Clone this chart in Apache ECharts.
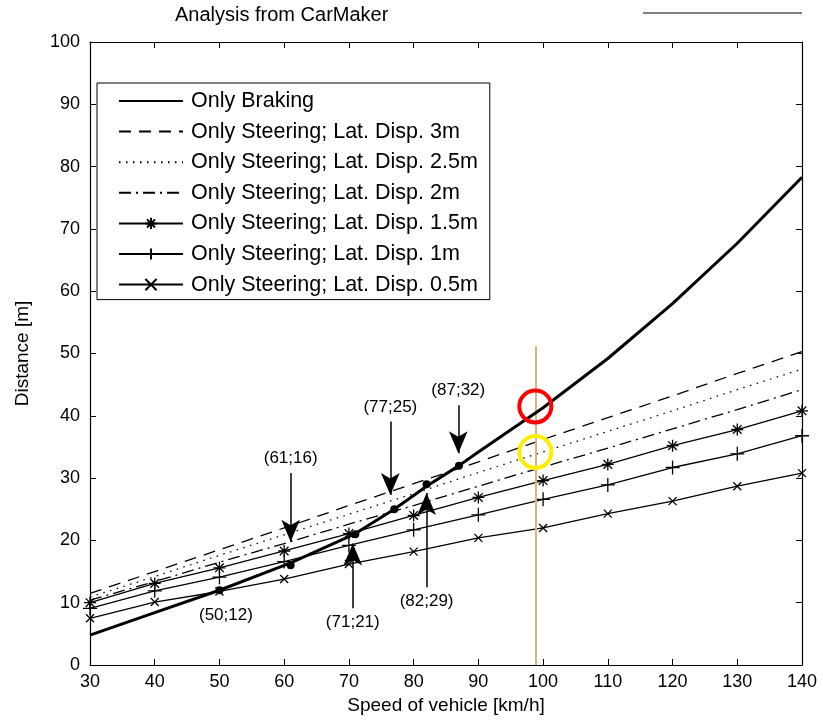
<!DOCTYPE html>
<html>
<head>
<meta charset="utf-8">
<script src="https://cdn.jsdelivr.net/npm/echarts@6/dist/echarts.min.js"></script>
<style>html,body{margin:0;padding:0;background:#fff;}#c{width:823px;height:725px;}</style>
</head>
<body>
<div id="c"></div>
<script>
// ---- data ----
const speeds = [30, 40, 50, 60, 70, 80, 90, 100, 110, 120, 130, 140];
const brakingSpeeds = [30, 40, 50, 60, 61, 70, 71, 77, 80, 82, 87, 90, 100, 110, 120, 130, 140];
const brakingDist = [4.8, 8.4, 12.0, 16.0, 16.4, 20.6, 21.1, 25.0, 27.2, 28.7, 32.0, 34.2, 41.3, 49.2, 58.0, 67.7, 78.3];
const steer3m  = [11.5, 15.0, 18.5, 22.0, 25.6, 29.1, 32.6, 36.2, 39.7, 43.2, 46.8, 50.3];
const steer25m = [10.9, 14.2, 17.6, 20.9, 24.2, 27.5, 30.9, 34.2, 37.5, 40.8, 44.2, 47.5];
const steer2m  = [10.4, 13.4, 16.5, 19.5, 22.6, 25.6, 28.7, 31.8, 34.8, 37.9, 41.0, 44.2];
const steer15m = [10.0, 13.1, 15.6, 18.3, 21.1, 24.0, 26.9, 29.6, 32.2, 35.2, 37.8, 40.8];
const steer1m  = [9.1, 11.9, 14.1, 16.6, 19.2, 21.7, 24.1, 26.6, 28.9, 31.7, 33.9, 36.8];
const steer05m = [7.5, 10.1, 11.8, 13.8, 16.2, 18.2, 20.4, 22.0, 24.3, 26.3, 28.7, 30.8];
const seriesNames = ['Only Braking', 'Only Steering; Lat. Disp. 3m', 'Only Steering; Lat. Disp. 2.5m',
  'Only Steering; Lat. Disp. 2m', 'Only Steering; Lat. Disp. 1.5m', 'Only Steering; Lat. Disp. 1m',
  'Only Steering; Lat. Disp. 0.5m'];
// key points on braking curve
const keyX = [50, 61, 71, 77, 82, 87];
const keyY = [12, 16, 21, 25, 29, 32];
// arrow annotations
const arrowLabels = ['(61;16)', '(77;25)', '(87;32)', '(71;21)', '(82;29)'];
const arrowX = [61, 76.4, 86.9, 70.6, 82.0];
const arrowFrom = [30.8, 39.1, 41.7, 9.1, 12.5];
const arrowTo = [19.8, 27.3, 34.0, 19.5, 27.6];
// text-only annotation
const noteLabel = '(50;12)';
const noteX = 51.0, noteY = 8.0;
// highlight circles and vertical marker
const circleX = [98.8, 98.8];
const circleY = [41.5, 34.2];
const circleColors = ['#ff0000', '#ffee00'];
const markerX = 98.9;
const markerTop = 51.2;
// axis ticks
const xMin = 30, xMax = 140, xStep = 10;
const yMin = 0, yMax = 100, yStep = 10;

// ---- chart ----
const FONT = '"Liberation Sans", Arial, sans-serif';
const pair = (xs, ys) => xs.map((x, i) => [x, ys[i]]);
const STAR = 'path://M0,-1L0,1M-1,0L1,0M-0.72,-0.72L0.72,0.72M-0.72,0.72L0.72,-0.72';
const PLUS = 'path://M0,-1L0,1M-1,0L1,0';
const XMARK = 'path://M-1,-1L1,1M-1,1L1,-1';

function steerSeries(name, vals, dash, symbol, size) {
  return {
    name, type: 'line', data: pair(speeds, vals),
    symbol: symbol || 'none', symbolSize: size || 0, showSymbol: !!symbol,
    lineStyle: { color: '#000', width: 1.3, type: dash || 'solid' },
    itemStyle: { color: '#000', borderColor: '#000', borderWidth: 1.3 },
    z: 3
  };
}

const axisLine = { show: true, onZero: false, lineStyle: { color: '#000', width: 1.2 } };
const tick = { show: true, inside: true, length: 6, lineStyle: { color: '#000', width: 1 } };

const option = {
  animation: false,
  backgroundColor: '#fff',
  title: { text: 'Analysis from CarMaker', left: 170, top: 0,
    textStyle: { fontFamily: FONT, fontSize: 20, fontWeight: 'normal', color: '#000' } },
  graphic: [{ type: 'line', shape: { x1: 643, y1: 13, x2: 802, y2: 13 }, style: { stroke: '#555', lineWidth: 1.5 } }],
  grid: { left: 90, right: 21, top: 42, bottom: 60, containLabel: false },
  legend: {
    data: seriesNames.map((n, i) => (i < 4 ? { name: n, itemStyle: { opacity: 0 } } : { name: n })),
    orient: 'vertical', left: 97, top: 83,
    itemWidth: 64, itemHeight: 14, itemGap: 8.6,
    padding: [7, 12, 4, 21],
    borderColor: '#000', borderWidth: 1, backgroundColor: '#fff',
    selectedMode: false,
    textStyle: { fontFamily: FONT, fontSize: 21.5, color: '#000', lineHeight: 22, padding: [0, 0, 0, 3] },
    z: 10
  },
  xAxis: [
    { type: 'value', min: xMin, max: xMax, interval: xStep, position: 'bottom',
      axisLine, axisTick: tick, splitLine: { show: false },
      axisLabel: { color: '#000', fontFamily: FONT, fontSize: 18, margin: 8 },
      name: 'Speed of vehicle [km/h]', nameLocation: 'middle', nameGap: 28,
      nameTextStyle: { color: '#000', fontFamily: FONT, fontSize: 19 } },
    { type: 'value', min: xMin, max: xMax, interval: xStep, position: 'top',
      axisLine, axisTick: tick, splitLine: { show: false }, axisLabel: { show: false } }
  ],
  yAxis: [
    { type: 'value', min: yMin, max: yMax, interval: yStep, position: 'left',
      axisLine, axisTick: tick, splitLine: { show: false },
      axisLabel: { color: '#000', fontFamily: FONT, fontSize: 18, margin: 10 },
      name: 'Distance [m]', nameLocation: 'middle', nameGap: 58,
      nameTextStyle: { color: '#000', fontFamily: FONT, fontSize: 19 } },
    { type: 'value', min: yMin, max: yMax, interval: yStep, position: 'right',
      axisLine, axisTick: tick, splitLine: { show: false }, axisLabel: { show: false } }
  ],
  series: [
    { name: seriesNames[0], type: 'line', data: pair(brakingSpeeds, brakingDist),
      symbol: 'none', showSymbol: false, smooth: false,
      lineStyle: { color: '#000', width: 3, join: 'round' }, itemStyle: { color: '#000' }, z: 5 },
    steerSeries(seriesNames[1], steer3m, [12, 8]),
    steerSeries(seriesNames[2], steer25m, [1.5, 5.5]),
    steerSeries(seriesNames[3], steer2m, [12, 5, 2, 5]),
    steerSeries(seriesNames[4], steer15m, 'solid', STAR, 12),
    steerSeries(seriesNames[5], steer1m, 'solid', PLUS, 14),
    steerSeries(seriesNames[6], steer05m, 'solid', XMARK, 8),
    { name: 'keypoints', type: 'scatter', data: pair(keyX, keyY), symbol: 'circle', symbolSize: 8,
      itemStyle: { color: '#000', opacity: 1 }, z: 6,
      markLine: {
        silent: true, animation: false, symbolSize: 16,
        lineStyle: { color: '#000', width: 1.5, type: 'solid', opacity: 1 },
        label: { show: true, position: 'start', distance: 6, color: '#000', fontFamily: FONT, fontSize: 17 },
        data: arrowLabels.map((t, i) => [
          { coord: [arrowX[i], arrowFrom[i]], symbol: 'none', label: { formatter: t } },
          { coord: [arrowX[i], arrowTo[i]], symbol: 'arrow', symbolSize: [14, 22] }
        ])
      }
    },
    { name: 'note', type: 'scatter', data: [[noteX, noteY]], symbolSize: 1,
      itemStyle: { opacity: 1, color: 'rgba(0,0,0,0)' },
      label: { show: true, position: 'inside', formatter: noteLabel, color: '#000', opacity: 1, fontFamily: FONT, fontSize: 17 } },
    { name: 'circles', type: 'scatter', symbol: 'circle', symbolSize: 32, z: 8,
      data: circleX.map((x, i) => ({ value: [x, circleY[i]],
        itemStyle: { color: 'rgba(0,0,0,0)', borderColor: circleColors[i], borderWidth: 4, opacity: 1 } })),
      markLine: {
        silent: true, symbol: 'none', label: { show: false },
        lineStyle: { color: '#dcb57a', width: 2, type: 'solid', opacity: 1 },
        data: [[{ coord: [markerX, 0] }, { coord: [markerX, markerTop] }]]
      }
    }
  ]
};
const chart = echarts.init(document.getElementById('c'), null, { renderer: 'canvas' });
chart.setOption(option);
</script>
</body>
</html>
